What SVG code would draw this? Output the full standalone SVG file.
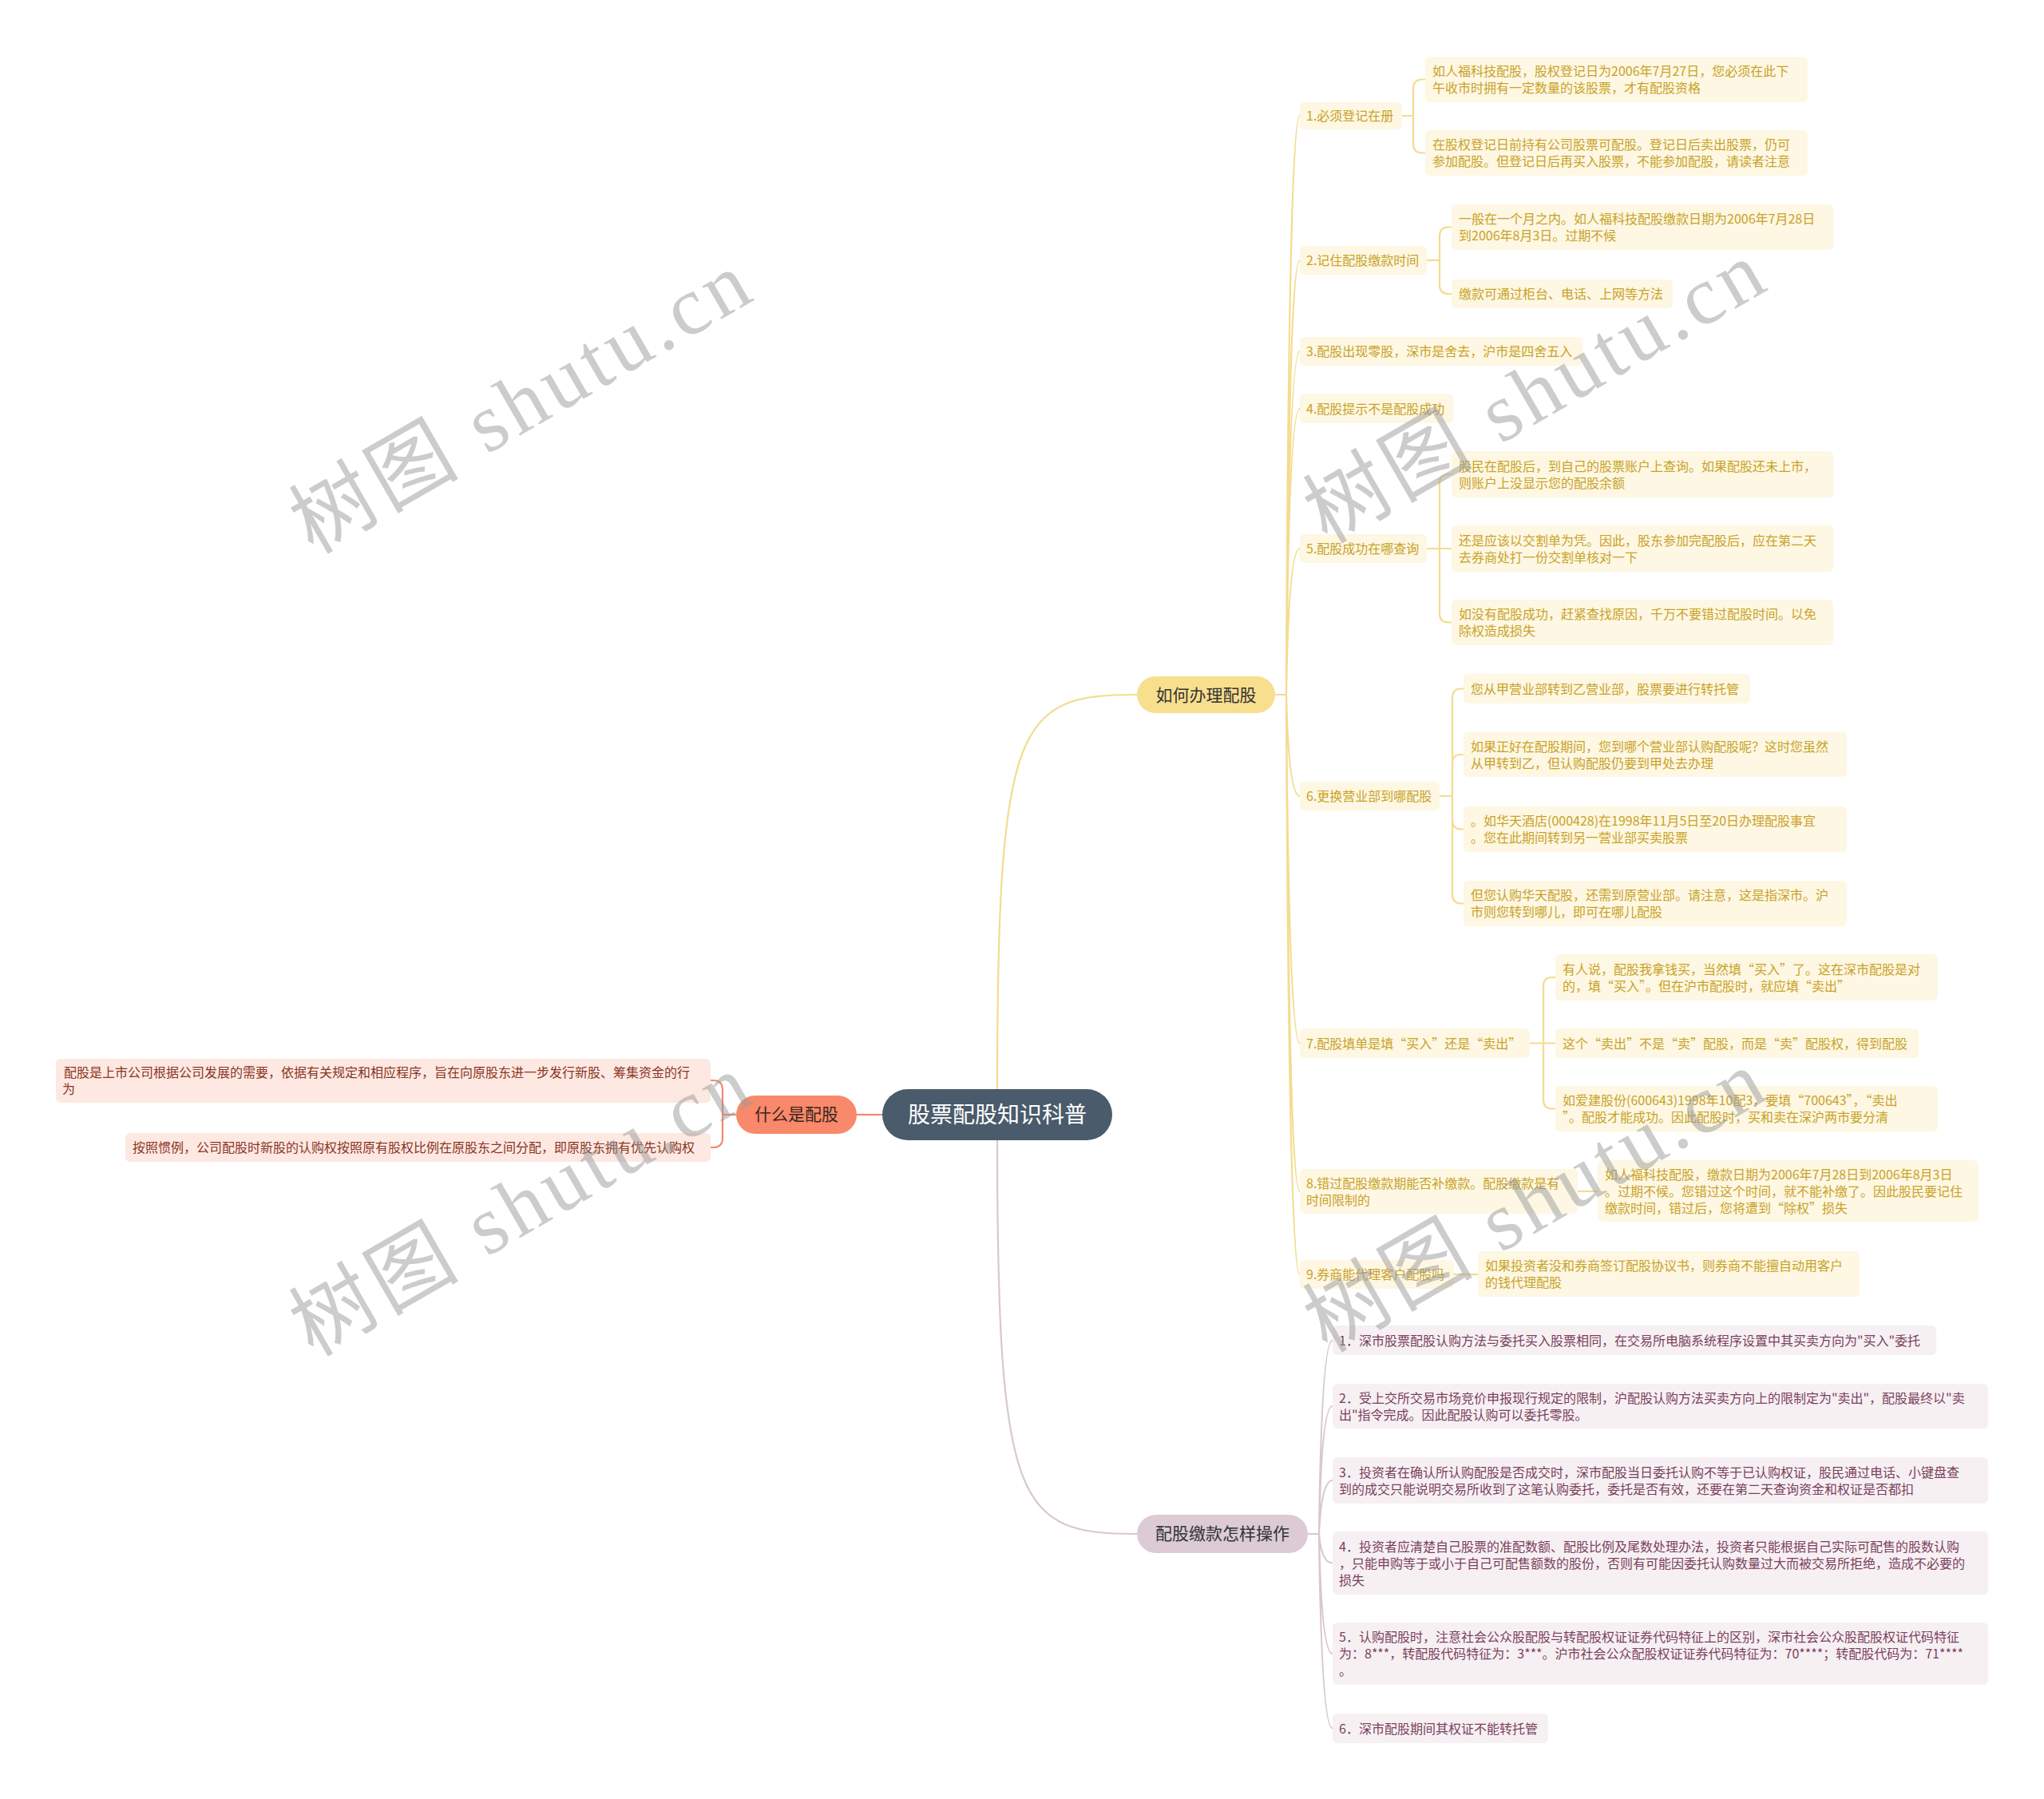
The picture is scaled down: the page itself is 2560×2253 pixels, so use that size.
<svg xmlns="http://www.w3.org/2000/svg" width="2560" height="2253" viewBox="0 0 2560 2253">
<style>
text{font-family:"Noto Sans CJK SC","Microsoft YaHei",sans-serif;}
.bg{fill:#ffffff}
.yb{fill:#fdf7e3}
.yt{fill:#c9a227;font-size:16px}
.mb{fill:#f6f0f3}
.mt{fill:#7b3f5c;font-size:16px}
.ob{fill:#fde8e2}
.ot{fill:#8a3522;font-size:16px}
.yc{fill:none;stroke:#f4dc8f;stroke-width:2.2}
.mc{fill:none;stroke:#d8c8cf;stroke-width:2.2}
.oc{fill:none;stroke:#ee8a6c;stroke-width:2.2}
.wm{font-family:"Liberation Serif","Noto Sans CJK SC",serif;font-size:104px;fill:#9a9a9a;opacity:0.5}
</style>
<rect class="bg" x="0" y="0" width="2560" height="2253"/>

<g id="connectors">
  <path class="yc" d="M1249,1364 C1249,900 1275,870 1424,870" stroke-width="2.6"/>
  <path class="mc" d="M1249,1428 C1249,1890 1275,1921 1424,1921" stroke-width="2.6"/>
  <path class="oc" d="M1105,1396 H1073" stroke-width="2.6"/>
  <!-- orange bracket -->
  <path class="oc" d="M922,1396 H905 M905,1396 V1365 Q905,1353 893,1353 H890 M905,1396 V1425 Q905,1437 893,1437 H890"/>
  <!-- yellow trunk -->
  <path class="yc" d="M1597,870 H1611
    M1611,870 Q1614,145 1628,145
    M1611,870 Q1614,326 1628,326
    M1611,870 Q1614,440 1628,440
    M1611,870 Q1614,511.5 1628,511.5
    M1611,870 Q1614,687 1628,687
    M1611,870 Q1614,997 1628,997
    M1611,870 Q1614,1306.5 1628,1306.5
    M1611,870 Q1614,1492 1628,1492
    M1611,870 Q1614,1596 1628,1596"/>
  <!-- level 3 brackets -->
  <path class="yc" d="M1756,145 H1770 M1770,145 V111 Q1770,99.5 1781,99.5 H1785 M1770,145 V180 Q1770,191.5 1781,191.5 H1785"/>
  <path class="yc" d="M1787,326 H1803 M1803,326 V296 Q1803,284.5 1814,284.5 H1818 M1803,326 V357 Q1803,368 1814,368 H1818"/>
  <path class="yc" d="M1787,687 H1818 M1803,687 V605 Q1803,594 1814,594 H1818 M1803,687 V768 Q1803,779.5 1814,779.5 H1818"/>
  <path class="yc" d="M1803,997 H1819 M1819,997 V874 Q1819,862.5 1830,862.5 H1833 M1819,997 V956 Q1819,945 1830,945 H1833 M1819,997 V1027 Q1819,1038.5 1830,1038.5 H1833 M1819,997 V1120 Q1819,1131.5 1830,1131.5 H1833"/>
  <path class="yc" d="M1916,1306.5 H1948 M1933,1306.5 V1235 Q1933,1224 1944,1224 H1948 M1933,1306.5 V1377 Q1933,1388.5 1944,1388.5 H1948"/>
  <path class="yc" d="M1976,1492 H2001"/>
  <path class="yc" d="M1821,1596 H1851"/>
  <!-- mauve trunk -->
  <path class="mc" d="M1638,1921 H1652
    M1652,1921 Q1655,1678.5 1669,1678.5
    M1652,1921 Q1655,1761 1669,1761
    M1652,1921 Q1655,1854 1669,1854
    M1652,1921 Q1655,1957.5 1669,1957.5
    M1652,1921 Q1655,2071 1669,2071
    M1652,1921 Q1655,2164.5 1669,2164.5"/>
</g>

<g id="root">
  <rect x="1105" y="1364" width="288" height="64" rx="32" fill="#4a5b6b"/>
  <text x="1249" y="1406" text-anchor="middle" font-size="28" fill="#ffffff">股票配股知识科普</text>
</g>

<g id="n-what">
  <rect x="922" y="1372" width="151" height="48" rx="24" fill="#f9896a"/>
  <text x="997.5" y="1403" text-anchor="middle" font-size="21" fill="#3a2620">什么是配股</text>
</g>
<g id="n-what-1">
  <rect class="ob" x="70" y="1326" width="820" height="55" rx="6"/>
  <text class="ot" x="80"><tspan x="80" y="1349">配股是上市公司根据公司发展的需要，依据有关规定和相应程序，旨在向原股东进一步发行新股、筹集资金的行</tspan><tspan x="78" y="1370">为</tspan></text>
</g>
<g id="n-what-2">
  <rect class="ob" x="157" y="1419" width="733" height="36" rx="6"/>
  <text class="ot" x="166" y="1443">按照惯例，公司配股时新股的认购权按照原有股权比例在原股东之间分配，即原股东拥有优先认购权</text>
</g>

<g id="n-how">
  <rect x="1424" y="847" width="173" height="46" rx="23" fill="#f8df8d"/>
  <text x="1510.5" y="877.5" text-anchor="middle" font-size="21" fill="#333333">如何办理配股</text>
</g>

<g id="n-how-1">
  <rect class="yb" x="1628" y="128" width="128" height="34" rx="6"/>
  <text class="yt" x="1636" y="151">1.必须登记在册</text>
</g>
<g id="n-how-1a">
  <rect class="yb" x="1785" y="71" width="479" height="57" rx="6"/>
  <text class="yt"><tspan x="1794" y="95">如人福科技配股，股权登记日为2006年7月27日，您必须在此下</tspan><tspan x="1794" y="116">午收市时拥有一定数量的该股票，才有配股资格</tspan></text>
</g>
<g id="n-how-1b">
  <rect class="yb" x="1785" y="163" width="479" height="57" rx="6"/>
  <text class="yt"><tspan x="1794" y="187">在股权登记日前持有公司股票可配股。登记日后卖出股票，仍可</tspan><tspan x="1794" y="208">参加配股。但登记日后再买入股票，不能参加配股，请读者注意</tspan></text>
</g>

<g id="n-how-2">
  <rect class="yb" x="1628" y="308" width="159" height="36" rx="6"/>
  <text class="yt" x="1636" y="332">2.记住配股缴款时间</text>
</g>
<g id="n-how-2a">
  <rect class="yb" x="1818" y="256" width="478" height="57" rx="6"/>
  <text class="yt"><tspan x="1827" y="280">一般在一个月之内。如人福科技配股缴款日期为2006年7月28日</tspan><tspan x="1827" y="301">到2006年8月3日。过期不候</tspan></text>
</g>
<g id="n-how-2b">
  <rect class="yb" x="1818" y="350" width="277" height="36" rx="6"/>
  <text class="yt" x="1827" y="374">缴款可通过柜台、电话、上网等方法</text>
</g>

<g id="n-how-3">
  <rect class="yb" x="1628" y="422" width="354" height="36" rx="6"/>
  <text class="yt" x="1636" y="446">3.配股出现零股，深市是舍去，沪市是四舍五入</text>
</g>

<g id="n-how-4">
  <rect class="yb" x="1628" y="493" width="192" height="37" rx="6"/>
  <text class="yt" x="1636" y="517.5">4.配股提示不是配股成功</text>
</g>

<g id="n-how-5">
  <rect class="yb" x="1628" y="669" width="159" height="36" rx="6"/>
  <text class="yt" x="1636" y="693">5.配股成功在哪查询</text>
</g>
<g id="n-how-5a">
  <rect class="yb" x="1818" y="565" width="478" height="58" rx="6"/>
  <text class="yt"><tspan x="1827" y="589.5">股民在配股后，到自己的股票账户上查询。如果配股还未上市，</tspan><tspan x="1827" y="610.5">则账户上没显示您的配股余额</tspan></text>
</g>
<g id="n-how-5b">
  <rect class="yb" x="1818" y="658" width="478" height="58" rx="6"/>
  <text class="yt"><tspan x="1827" y="682.5">还是应该以交割单为凭。因此，股东参加完配股后，应在第二天</tspan><tspan x="1827" y="703.5">去券商处打一份交割单核对一下</tspan></text>
</g>
<g id="n-how-5c">
  <rect class="yb" x="1818" y="751" width="478" height="57" rx="6"/>
  <text class="yt"><tspan x="1827" y="775">如没有配股成功，赶紧查找原因，千万不要错过配股时间。以免</tspan><tspan x="1827" y="796">除权造成损失</tspan></text>
</g>

<g id="n-how-6">
  <rect class="yb" x="1628" y="979" width="175" height="36" rx="6"/>
  <text class="yt" x="1636" y="1003">6.更换营业部到哪配股</text>
</g>
<g id="n-how-6a">
  <rect class="yb" x="1833" y="844" width="359" height="37" rx="6"/>
  <text class="yt" x="1842" y="868.5">您从甲营业部转到乙营业部，股票要进行转托管</text>
</g>
<g id="n-how-6b">
  <rect class="yb" x="1833" y="917" width="480" height="56" rx="6"/>
  <text class="yt"><tspan x="1842" y="940.5">如果正好在配股期间，您到哪个营业部认购配股呢？这时您虽然</tspan><tspan x="1842" y="961.5">从甲转到乙，但认购配股仍要到甲处去办理</tspan></text>
</g>
<g id="n-how-6c">
  <rect class="yb" x="1833" y="1010" width="480" height="57" rx="6"/>
  <text class="yt"><tspan x="1842" y="1034">。如华天酒店(000428)在1998年11月5日至20日办理配股事宜</tspan><tspan x="1842" y="1055">。您在此期间转到另一营业部买卖股票</tspan></text>
</g>
<g id="n-how-6d">
  <rect class="yb" x="1833" y="1103" width="480" height="57" rx="6"/>
  <text class="yt"><tspan x="1842" y="1127">但您认购华天配股，还需到原营业部。请注意，这是指深市。沪</tspan><tspan x="1842" y="1148">市则您转到哪儿，即可在哪儿配股</tspan></text>
</g>

<g id="n-how-7">
  <rect class="yb" x="1628" y="1288" width="288" height="37" rx="6"/>
  <text class="yt" x="1636" y="1312.5">7.配股填单是填“买入”还是“卖出”</text>
</g>
<g id="n-how-7a">
  <rect class="yb" x="1948" y="1195" width="479" height="58" rx="6"/>
  <text class="yt"><tspan x="1957" y="1219.5">有人说，配股我拿钱买，当然填“买入”了。这在深市配股是对</tspan><tspan x="1957" y="1240.5">的，填“买入”。但在沪市配股时，就应填“卖出”</tspan></text>
</g>
<g id="n-how-7b">
  <rect class="yb" x="1948" y="1288" width="455" height="37" rx="6"/>
  <text class="yt" x="1957" y="1312.5">这个“卖出”不是“卖”配股，而是“卖”配股权，得到配股</text>
</g>
<g id="n-how-7c">
  <rect class="yb" x="1948" y="1360" width="479" height="57" rx="6"/>
  <text class="yt"><tspan x="1957" y="1384">如爱建股份(600643)1998年10配3，要填“700643”，“卖出</tspan><tspan x="1957" y="1405">”。配股才能成功。因此配股时，买和卖在深沪两市要分清</tspan></text>
</g>

<g id="n-how-8">
  <rect class="yb" x="1628" y="1464" width="348" height="56" rx="6"/>
  <text class="yt"><tspan x="1636" y="1487.5">8.错过配股缴款期能否补缴款。配股缴款是有</tspan><tspan x="1636" y="1508.5">时间限制的</tspan></text>
</g>
<g id="n-how-8a">
  <rect class="yb" x="2001" y="1453" width="477" height="77" rx="6"/>
  <text class="yt"><tspan x="2010" y="1476.5">如人福科技配股，缴款日期为2006年7月28日到2006年8月3日</tspan><tspan x="2010" y="1497.5">。过期不候。您错过这个时间，就不能补缴了。因此股民要记住</tspan><tspan x="2010" y="1518.5">缴款时间，错过后，您将遭到“除权”损失</tspan></text>
</g>

<g id="n-how-9">
  <rect class="yb" x="1628" y="1578" width="193" height="36" rx="6"/>
  <text class="yt" x="1636" y="1602">9.券商能代理客户配股吗</text>
</g>
<g id="n-how-9a">
  <rect class="yb" x="1851" y="1567" width="478" height="57" rx="6"/>
  <text class="yt"><tspan x="1860" y="1591">如果投资者没和券商签订配股协议书，则券商不能擅自动用客户</tspan><tspan x="1860" y="1612">的钱代理配股</tspan></text>
</g>

<g id="n-pay">
  <rect x="1424" y="1897" width="214" height="48" rx="24" fill="#dccbd4"/>
  <text x="1531" y="1928" text-anchor="middle" font-size="21" fill="#333333">配股缴款怎样操作</text>
</g>
<g id="n-pay-1">
  <rect class="mb" x="1669" y="1660" width="756" height="37" rx="6"/>
  <text class="mt" x="1677" y="1684.5">1．深市股票配股认购方法与委托买入股票相同，在交易所电脑系统程序设置中其买卖方向为"买入"委托</text>
</g>
<g id="n-pay-2">
  <rect class="mb" x="1669" y="1733" width="821" height="56" rx="6"/>
  <text class="mt"><tspan x="1677" y="1756.5">2．受上交所交易市场竞价申报现行规定的限制，沪配股认购方法买卖方向上的限制定为"卖出"，配股最终以"卖</tspan><tspan x="1677" y="1777.5">出"指令完成。因此配股认购可以委托零股。</tspan></text>
</g>
<g id="n-pay-3">
  <rect class="mb" x="1669" y="1825" width="821" height="58" rx="6"/>
  <text class="mt"><tspan x="1677" y="1849.5">3．投资者在确认所认购配股是否成交时，深市配股当日委托认购不等于已认购权证，股民通过电话、小键盘查</tspan><tspan x="1677" y="1870.5">到的成交只能说明交易所收到了这笔认购委托，委托是否有效，还要在第二天查询资金和权证是否都扣</tspan></text>
</g>
<g id="n-pay-4">
  <rect class="mb" x="1669" y="1918" width="821" height="79" rx="6"/>
  <text class="mt"><tspan x="1677" y="1942.5">4．投资者应清楚自己股票的准配数额、配股比例及尾数处理办法，投资者只能根据自己实际可配售的股数认购</tspan><tspan x="1677" y="1963.5">，只能申购等于或小于自己可配售额数的股份，否则有可能因委托认购数量过大而被交易所拒绝，造成不必要的</tspan><tspan x="1677" y="1984.5">损失</tspan></text>
</g>
<g id="n-pay-5">
  <rect class="mb" x="1669" y="2032" width="821" height="78" rx="6"/>
  <text class="mt"><tspan x="1677" y="2056">5．认购配股时，注意社会公众股配股与转配股权证证券代码特征上的区别，深市社会公众股配股权证代码特征</tspan><tspan x="1677" y="2077">为：8***，转配股代码特征为：3***。沪市社会公众配股权证证券代码特征为：70****；转配股代码为：71****</tspan><tspan x="1677" y="2098">。</tspan></text>
</g>
<g id="n-pay-6">
  <rect class="mb" x="1669" y="2146" width="270" height="37" rx="6"/>
  <text class="mt" x="1677" y="2170.5">6．深市配股期间其权证不能转托管</text>
</g>

<g id="watermark">
  <text class="wm" x="392" y="695" transform="rotate(-30 392 695)" textLength="640" lengthAdjust="spacing">树图 shutu.cn</text>
  <text class="wm" x="1662" y="682" transform="rotate(-30 1662 682)" textLength="640" lengthAdjust="spacing">树图 shutu.cn</text>
  <text class="wm" x="392" y="1700" transform="rotate(-30 392 1700)" textLength="640" lengthAdjust="spacing">树图 shutu.cn</text>
  <text class="wm" x="1662" y="1695" transform="rotate(-30 1662 1695)" textLength="640" lengthAdjust="spacing">树图 shutu.cn</text>
</g>
</svg>
